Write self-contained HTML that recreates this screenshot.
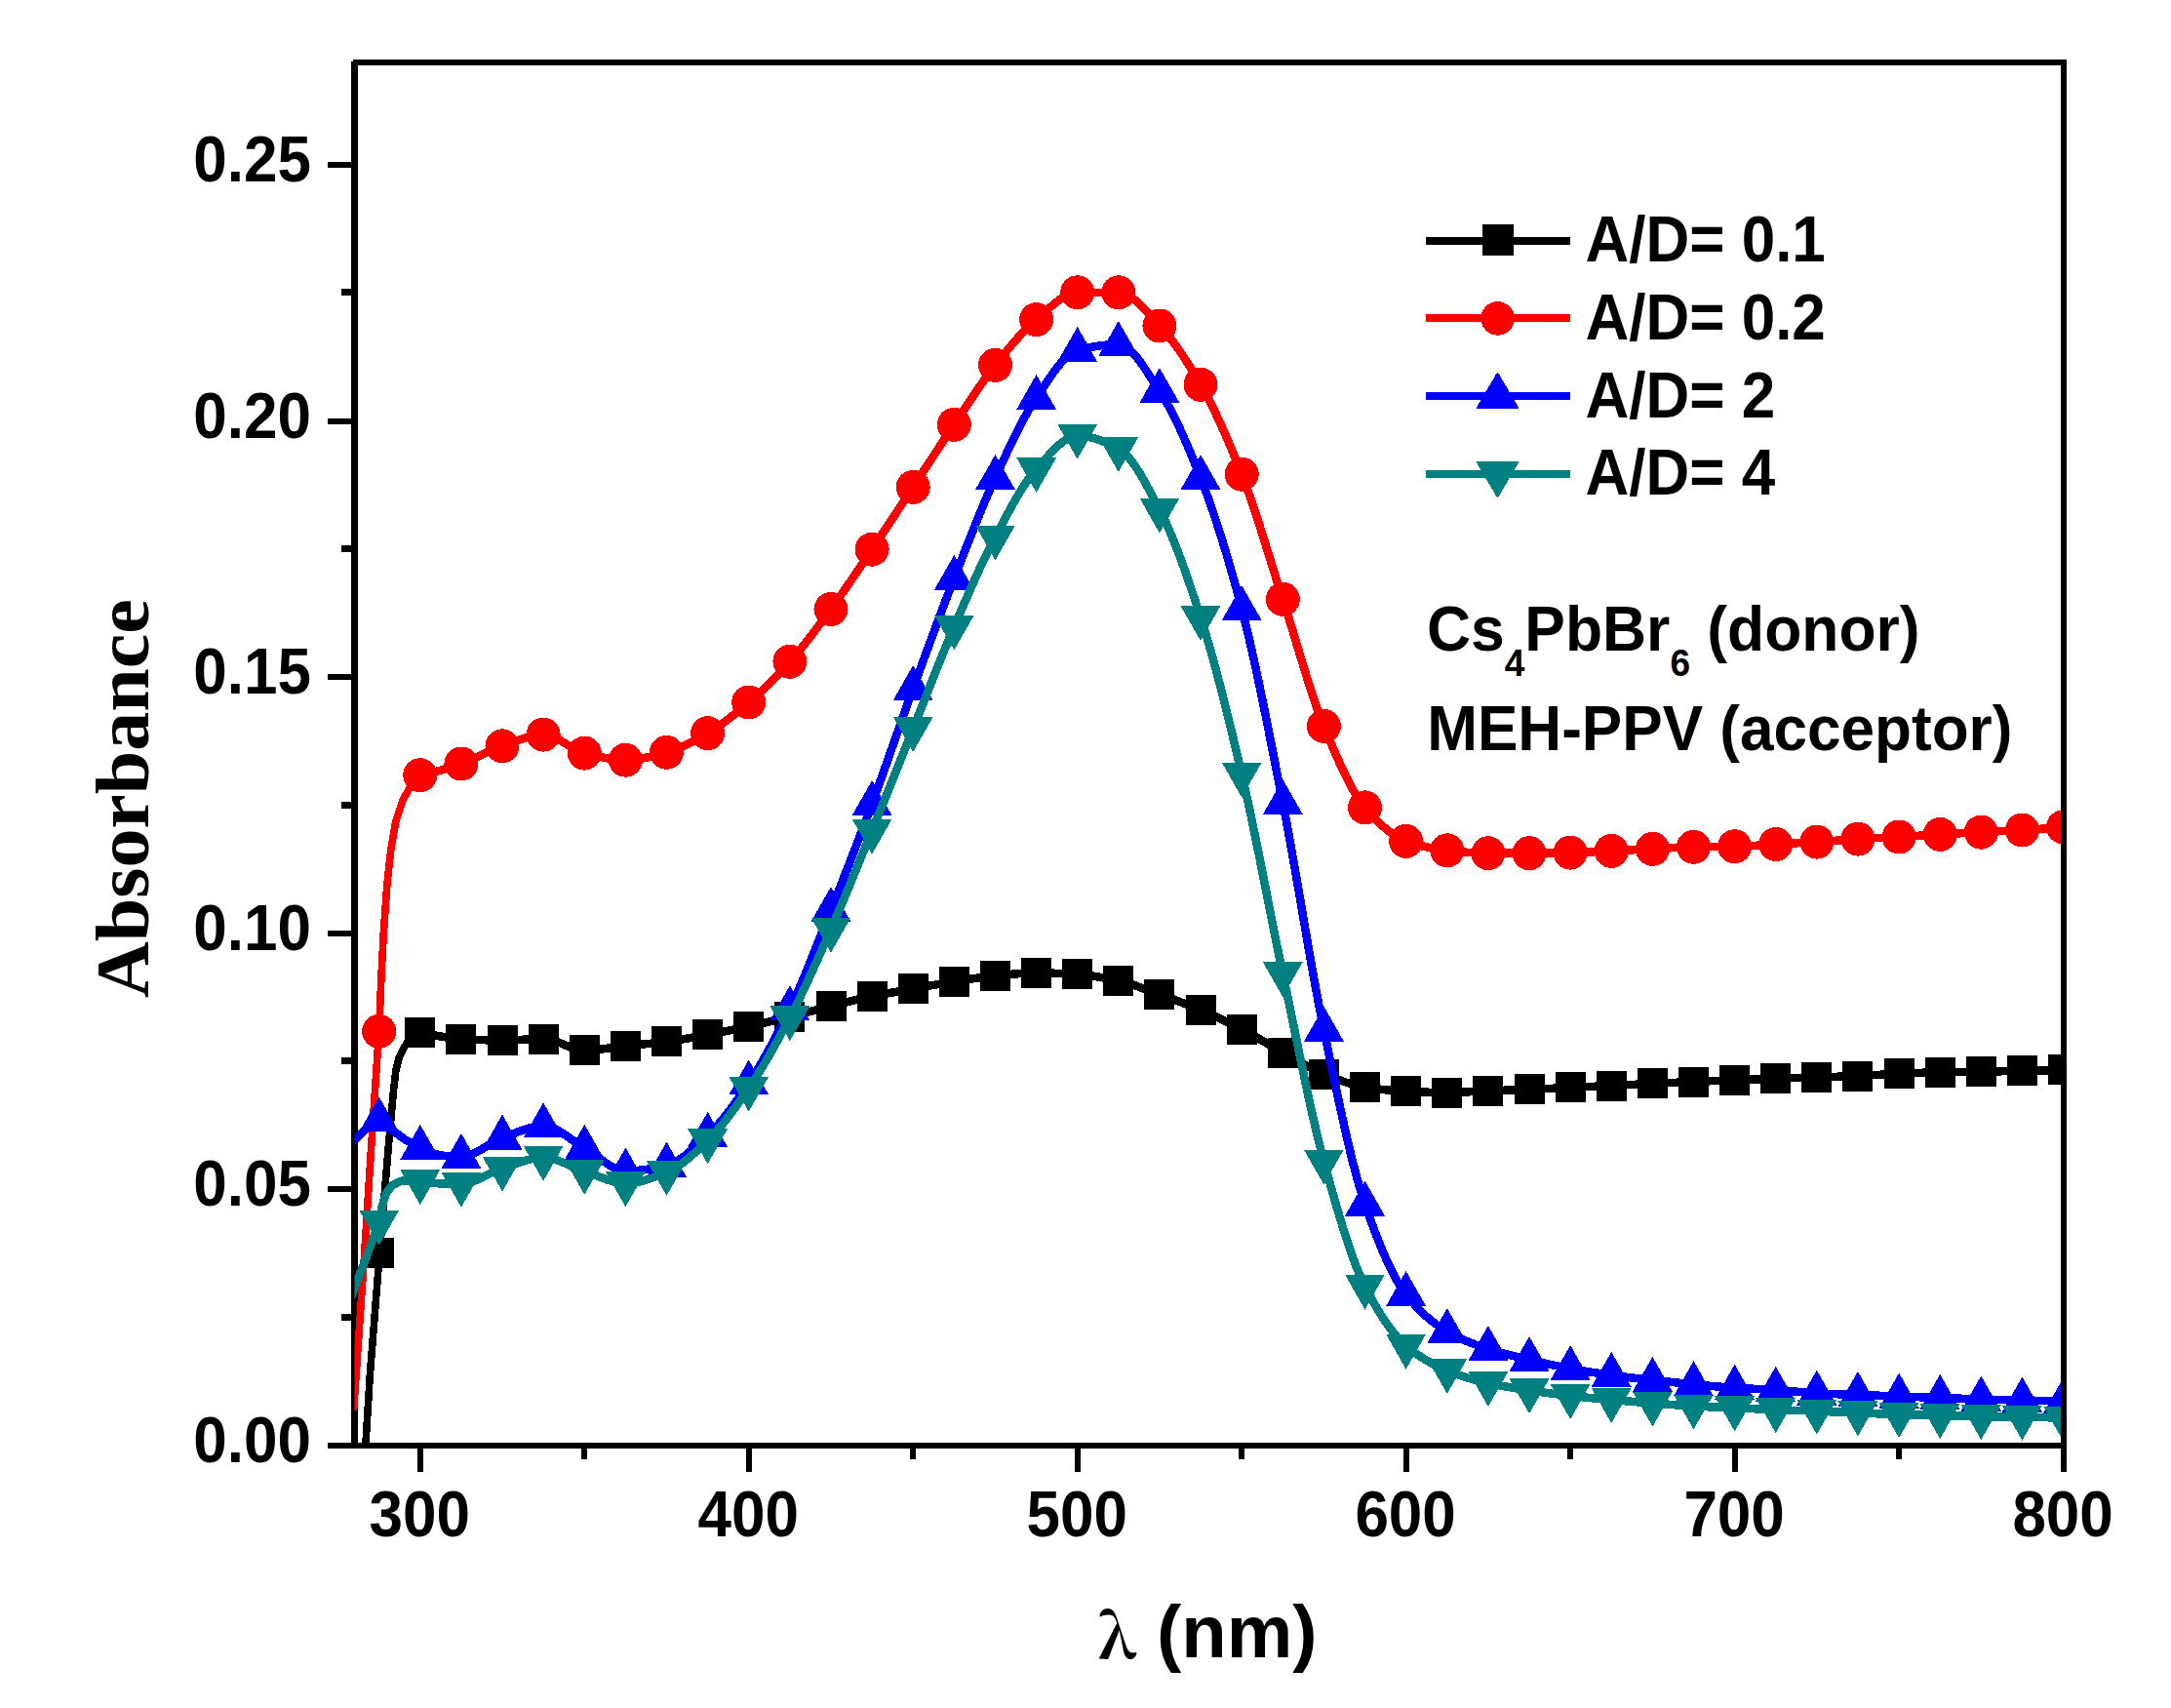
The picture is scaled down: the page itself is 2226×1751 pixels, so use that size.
<!DOCTYPE html>
<html lang="en">
<head>
<meta charset="utf-8">
<title>Absorbance spectra</title>
<style>html,body{margin:0;padding:0;background:#fff;}svg{display:block;}</style>
</head>
<body>
<svg width="2226" height="1751" viewBox="0 0 2226 1751">
<rect width="2226" height="1751" fill="#ffffff"/>
<defs><clipPath id="pc"><rect x="363.4" y="67" width="1749.6" height="1412.0"/></clipPath></defs>
<g fill="#000000" shape-rendering="crispEdges">
<rect x="360" y="63" width="7" height="1422"/>
<rect x="362" y="61" width="1757" height="6"/>
<rect x="2113" y="61" width="6" height="1448"/>
<rect x="336" y="1479" width="1783" height="6"/>
<rect x="336" y="1216.4" width="25" height="6"/>
<rect x="336" y="953.8" width="25" height="6"/>
<rect x="336" y="691.2" width="25" height="6"/>
<rect x="336" y="428.6" width="25" height="6"/>
<rect x="336" y="166.0" width="25" height="6"/>
<rect x="350" y="1346.7" width="11" height="7"/>
<rect x="350" y="1084.1" width="11" height="7"/>
<rect x="350" y="821.5" width="11" height="7"/>
<rect x="350" y="558.9" width="11" height="7"/>
<rect x="350" y="296.3" width="11" height="7"/>
<rect x="427.8" y="1484" width="6" height="25"/>
<rect x="764.8" y="1484" width="6" height="25"/>
<rect x="1101.7" y="1484" width="6" height="25"/>
<rect x="1438.6" y="1484" width="6" height="25"/>
<rect x="1775.6" y="1484" width="6" height="25"/>
<rect x="596.3" y="1484" width="6" height="12"/>
<rect x="933.2" y="1484" width="6" height="12"/>
<rect x="1270.2" y="1484" width="6" height="12"/>
<rect x="1607.1" y="1484" width="6" height="12"/>
<rect x="1944.1" y="1484" width="6" height="12"/>
</g>
<g clip-path="url(#pc)" shape-rendering="crispEdges">
<polyline points="374.6,1486.0 379.3,1409.8 384.0,1351.3 388.8,1290.0 393.5,1233.0 398.3,1175.6 403.6,1117.0 405.8,1098.0 409.5,1083.0 417.3,1068.8 423.5,1061.5 430.8,1058.3" fill="none" stroke="#000000" stroke-width="7.6" stroke-linejoin="round"/>
<polyline points="430.8,1058.3 433.8,1059.0 436.8,1059.6 439.8,1060.2 442.8,1060.8 445.8,1061.4 448.8,1062.0 451.8,1062.5 454.8,1063.0 457.8,1063.4 460.8,1063.8 463.8,1064.2 466.8,1064.5 469.8,1064.8 472.8,1065.0 475.8,1065.2 478.8,1065.3 481.8,1065.5 484.8,1065.6 487.8,1065.8 490.8,1065.9 493.8,1066.0 496.8,1066.2 499.8,1066.3 502.8,1066.3 505.8,1066.4 508.8,1066.5 511.8,1066.5 514.8,1066.5 517.8,1066.5 520.8,1066.4 523.8,1066.3 526.8,1066.2 529.8,1066.1 532.8,1065.9 535.8,1065.8 538.8,1065.6 541.8,1065.5 544.8,1065.3 547.8,1065.2 550.8,1065.1 553.8,1065.0 556.8,1065.0 559.8,1065.1 562.8,1065.6 565.8,1066.3 568.8,1067.2 571.8,1068.3 574.8,1069.4 577.8,1070.7 580.8,1071.9 583.8,1073.1 586.8,1074.2 589.8,1075.2 592.8,1076.0 595.8,1076.5 598.8,1076.7 601.8,1076.7 604.8,1076.6 607.8,1076.4 610.8,1076.1 613.8,1075.8 616.8,1075.5 619.8,1075.1 622.8,1074.7 625.8,1074.3 628.8,1073.9 631.8,1073.5 634.8,1073.1 637.8,1072.7 640.8,1072.4 643.8,1072.1 646.8,1071.8 649.8,1071.5 652.8,1071.2 655.8,1070.9 658.8,1070.6 661.8,1070.3 664.8,1070.0 667.8,1069.7 670.8,1069.4 673.8,1069.1 676.8,1068.7 679.8,1068.4 682.8,1068.0 685.8,1067.6 688.8,1067.2 691.8,1066.7 694.8,1066.2 697.8,1065.8 700.8,1065.2 703.8,1064.7 706.8,1064.2 709.8,1063.6 712.8,1063.1 715.8,1062.5 718.8,1062.0 721.8,1061.4 724.8,1060.9 727.8,1060.3 730.8,1059.7 733.8,1059.2 736.8,1058.6 739.8,1058.0 742.8,1057.4 745.8,1056.8 748.8,1056.2 751.8,1055.6 754.8,1055.0 757.8,1054.4 760.8,1053.8 763.8,1053.1 766.8,1052.5 769.8,1051.9 772.8,1051.2 775.8,1050.5 778.8,1049.8 781.8,1049.2 784.8,1048.5 787.8,1047.8 790.8,1047.0 793.8,1046.3 796.8,1045.6 799.8,1044.9 802.8,1044.1 805.8,1043.4 808.8,1042.7 811.8,1041.9 814.8,1041.2 817.8,1040.4 820.8,1039.6 823.8,1038.8 826.8,1038.0 829.8,1037.2 832.8,1036.4 835.8,1035.6 838.8,1034.8 841.8,1034.0 844.8,1033.2 847.8,1032.5 850.8,1031.7 853.8,1030.9 856.8,1030.2 859.8,1029.4 862.8,1028.7 865.8,1028.0 868.8,1027.2 871.8,1026.5 874.8,1025.7 877.8,1025.0 880.8,1024.3 883.8,1023.6 886.8,1023.0 889.8,1022.3 892.8,1021.7 895.8,1021.1 898.8,1020.5 901.8,1019.9 904.8,1019.3 907.8,1018.8 910.8,1018.2 913.8,1017.7 916.8,1017.2 919.8,1016.7 922.8,1016.2 925.8,1015.6 928.8,1015.1 931.8,1014.6 934.8,1014.1 937.8,1013.5 940.8,1013.0 943.8,1012.4 946.8,1011.8 949.8,1011.3 952.8,1010.7 955.8,1010.1 958.8,1009.6 961.8,1009.0 964.8,1008.5 967.8,1008.0 970.8,1007.4 973.8,1006.9 976.8,1006.4 979.8,1006.0 982.8,1005.5 985.8,1005.0 988.8,1004.6 991.8,1004.1 994.8,1003.6 997.8,1003.2 1000.8,1002.8 1003.8,1002.4 1006.8,1002.0 1009.8,1001.6 1012.8,1001.2 1015.8,1000.9 1018.8,1000.6 1021.8,1000.3 1024.8,1000.0 1027.8,999.7 1030.8,999.4 1033.8,999.1 1036.8,998.8 1039.8,998.6 1042.8,998.3 1045.8,998.1 1048.8,997.9 1051.8,997.7 1054.8,997.6 1057.8,997.5 1060.8,997.4 1063.8,997.4 1066.8,997.4 1069.8,997.5 1072.8,997.5 1075.8,997.6 1078.8,997.7 1081.8,997.8 1084.8,997.9 1087.8,998.0 1090.8,998.2 1093.8,998.3 1096.8,998.5 1099.8,998.6 1102.8,998.8 1105.8,999.0 1108.8,999.2 1111.8,999.5 1114.8,999.8 1117.8,1000.2 1120.8,1000.6 1123.8,1001.1 1126.8,1001.6 1129.8,1002.1 1132.8,1002.7 1135.8,1003.3 1138.8,1003.9 1141.8,1004.5 1144.8,1005.2 1147.8,1005.8 1150.8,1006.5 1153.8,1007.3 1156.8,1008.2 1159.8,1009.1 1162.8,1010.0 1165.8,1011.1 1168.8,1012.1 1171.8,1013.2 1174.8,1014.3 1177.8,1015.4 1180.8,1016.5 1183.8,1017.6 1186.8,1018.6 1189.8,1019.7 1192.8,1020.8 1195.8,1021.8 1198.8,1022.9 1201.8,1024.0 1204.8,1025.1 1207.8,1026.3 1210.8,1027.4 1213.8,1028.6 1216.8,1029.7 1219.8,1030.9 1222.8,1032.1 1225.8,1033.3 1228.8,1034.6 1231.8,1035.8 1234.8,1037.1 1237.8,1038.4 1240.8,1039.7 1243.8,1041.0 1246.8,1042.3 1249.8,1043.7 1252.8,1045.1 1255.8,1046.5 1258.8,1047.9 1261.8,1049.3 1264.8,1050.8 1267.8,1052.3 1270.8,1053.8 1273.8,1055.3 1276.8,1056.9 1279.8,1058.5 1282.8,1060.2 1285.8,1061.9 1288.8,1063.6 1291.8,1065.4 1294.8,1067.2 1297.8,1068.9 1300.8,1070.7 1303.8,1072.5 1306.8,1074.2 1309.8,1075.9 1312.8,1077.6 1315.8,1079.3 1318.8,1080.9 1321.8,1082.6 1324.8,1084.3 1327.8,1086.0 1330.8,1087.7 1333.8,1089.4 1336.8,1091.0 1339.8,1092.6 1342.8,1094.2 1345.8,1095.7 1348.8,1097.2 1351.8,1098.6 1354.8,1099.9 1357.8,1101.2 1360.8,1102.3 1363.8,1103.5 1366.8,1104.7 1369.8,1105.9 1372.8,1107.0 1375.8,1108.1 1378.8,1109.1 1381.8,1110.1 1384.8,1111.1 1387.8,1111.9 1390.8,1112.7 1393.8,1113.4 1396.8,1114.0 1399.8,1114.5 1402.8,1115.0 1405.8,1115.4 1408.8,1115.9 1411.8,1116.3 1414.8,1116.6 1417.8,1117.0 1420.8,1117.3 1423.8,1117.6 1426.8,1117.9 1429.8,1118.2 1432.8,1118.4 1435.8,1118.6 1438.8,1118.8 1441.8,1118.9 1444.8,1119.0 1447.8,1119.2 1450.8,1119.3 1453.8,1119.4 1456.8,1119.5 1459.8,1119.6 1462.8,1119.7 1465.8,1119.8 1468.8,1119.8 1471.8,1119.9 1474.8,1119.9 1477.8,1120.0 1480.8,1120.0 1483.8,1120.0 1486.8,1120.0 1489.8,1119.9 1492.8,1119.9 1495.8,1119.8 1498.8,1119.6 1501.8,1119.5 1504.8,1119.4 1507.8,1119.2 1510.8,1119.0 1513.8,1118.9 1516.8,1118.7 1519.8,1118.6 1522.8,1118.4 1525.8,1118.3 1528.8,1118.2 1531.8,1118.1 1534.8,1118.0 1537.8,1117.9 1540.8,1117.8 1543.8,1117.7 1546.8,1117.6 1549.8,1117.5 1552.8,1117.4 1555.8,1117.3 1558.8,1117.1 1561.8,1117.0 1564.8,1116.9 1567.8,1116.8 1570.8,1116.7 1573.8,1116.6 1576.8,1116.4 1579.8,1116.3 1582.8,1116.2 1585.8,1116.0 1588.8,1115.9 1591.8,1115.8 1594.8,1115.6 1597.8,1115.5 1600.8,1115.3 1603.8,1115.2 1606.8,1115.1 1609.8,1114.9 1612.8,1114.8 1615.8,1114.6 1618.8,1114.5 1621.8,1114.4 1624.8,1114.2 1627.8,1114.1 1630.8,1114.0 1633.8,1113.8 1636.8,1113.7 1639.8,1113.6 1642.8,1113.4 1645.8,1113.3 1648.8,1113.2 1651.8,1113.0 1654.8,1112.9 1657.8,1112.7 1660.8,1112.6 1663.8,1112.4 1666.8,1112.3 1669.8,1112.1 1672.8,1112.0 1675.8,1111.8 1678.8,1111.7 1681.8,1111.5 1684.8,1111.4 1687.8,1111.2 1690.8,1111.1 1693.8,1110.9 1696.8,1110.8 1699.8,1110.6 1702.8,1110.5 1705.8,1110.4 1708.8,1110.2 1711.8,1110.1 1714.8,1110.0 1717.8,1109.8 1720.8,1109.7 1723.8,1109.6 1726.8,1109.4 1729.8,1109.3 1732.8,1109.2 1735.8,1109.0 1738.8,1108.9 1741.8,1108.8 1744.8,1108.6 1747.8,1108.5 1750.8,1108.4 1753.8,1108.2 1756.8,1108.1 1759.8,1108.0 1762.8,1107.8 1765.8,1107.7 1768.8,1107.6 1771.8,1107.5 1774.8,1107.3 1777.8,1107.2 1780.8,1107.1 1783.8,1107.0 1786.8,1106.9 1789.8,1106.8 1792.8,1106.7 1795.8,1106.6 1798.8,1106.5 1801.8,1106.4 1804.8,1106.3 1807.8,1106.2 1810.8,1106.1 1813.8,1106.0 1816.8,1105.9 1819.8,1105.8 1822.8,1105.7 1825.8,1105.6 1828.8,1105.5 1831.8,1105.4 1834.8,1105.3 1837.8,1105.2 1840.8,1105.1 1843.8,1105.0 1846.8,1104.9 1849.8,1104.8 1852.8,1104.7 1855.8,1104.6 1858.8,1104.5 1861.8,1104.4 1864.8,1104.3 1867.8,1104.2 1870.8,1104.1 1873.8,1104.1 1876.8,1104.0 1879.8,1103.9 1882.8,1103.8 1885.8,1103.7 1888.8,1103.6 1891.8,1103.5 1894.8,1103.4 1897.8,1103.3 1900.8,1103.2 1903.8,1103.0 1906.8,1102.9 1909.8,1102.8 1912.8,1102.6 1915.8,1102.5 1918.8,1102.3 1921.8,1102.2 1924.8,1102.0 1927.8,1101.8 1930.8,1101.6 1933.8,1101.5 1936.8,1101.3 1939.8,1101.2 1942.8,1101.0 1945.8,1100.9 1948.8,1100.7 1951.8,1100.6 1954.8,1100.5 1957.8,1100.3 1960.8,1100.2 1963.8,1100.0 1966.8,1099.9 1969.8,1099.8 1972.8,1099.7 1975.8,1099.6 1978.8,1099.5 1981.8,1099.4 1984.8,1099.3 1987.8,1099.2 1990.8,1099.2 1993.8,1099.1 1996.8,1099.1 1999.8,1099.0 2002.8,1099.0 2005.8,1099.0 2008.8,1098.9 2011.8,1098.9 2014.8,1098.9 2017.8,1098.9 2020.8,1098.8 2023.8,1098.8 2026.8,1098.8 2029.8,1098.7 2032.8,1098.7 2035.8,1098.6 2038.8,1098.6 2041.8,1098.5 2044.8,1098.4 2047.8,1098.4 2050.8,1098.3 2053.8,1098.2 2056.8,1098.2 2059.8,1098.1 2062.8,1098.0 2065.8,1098.0 2068.8,1097.9 2071.8,1097.8 2074.8,1097.8 2077.8,1097.7 2080.8,1097.6 2083.8,1097.6 2086.8,1097.5 2089.8,1097.5 2092.8,1097.4 2095.8,1097.3 2098.8,1097.3 2101.8,1097.2 2104.8,1097.1 2107.8,1097.1 2110.8,1097.0 2113.8,1096.9 2116.8,1096.9 2119.8,1096.8 2122.8,1096.7 2125.8,1096.7" fill="none" stroke="#000000" stroke-width="8.5" stroke-linejoin="round"/>
<g fill="#000000"><rect x="373.2" y="1269.3" width="31.0" height="31.0"/>
<rect x="415.3" y="1042.8" width="31.0" height="31.0"/>
<rect x="457.4" y="1049.5" width="31.0" height="31.0"/>
<rect x="499.5" y="1051.0" width="31.0" height="31.0"/>
<rect x="541.6" y="1049.5" width="31.0" height="31.0"/>
<rect x="583.8" y="1061.2" width="31.0" height="31.0"/>
<rect x="625.9" y="1056.8" width="31.0" height="31.0"/>
<rect x="668.0" y="1052.4" width="31.0" height="31.0"/>
<rect x="710.1" y="1045.2" width="31.0" height="31.0"/>
<rect x="752.2" y="1036.8" width="31.0" height="31.0"/>
<rect x="794.4" y="1026.9" width="31.0" height="31.0"/>
<rect x="836.5" y="1015.9" width="31.0" height="31.0"/>
<rect x="878.6" y="1005.9" width="31.0" height="31.0"/>
<rect x="920.7" y="998.3" width="31.0" height="31.0"/>
<rect x="962.8" y="990.7" width="31.0" height="31.0"/>
<rect x="1005.0" y="984.9" width="31.0" height="31.0"/>
<rect x="1047.1" y="981.9" width="31.0" height="31.0"/>
<rect x="1089.2" y="983.4" width="31.0" height="31.0"/>
<rect x="1131.3" y="990.1" width="31.0" height="31.0"/>
<rect x="1173.4" y="1003.9" width="31.0" height="31.0"/>
<rect x="1215.5" y="1020.0" width="31.0" height="31.0"/>
<rect x="1257.7" y="1039.5" width="31.0" height="31.0"/>
<rect x="1299.8" y="1063.5" width="31.0" height="31.0"/>
<rect x="1341.9" y="1085.5" width="31.0" height="31.0"/>
<rect x="1384.0" y="1099.0" width="31.0" height="31.0"/>
<rect x="1426.1" y="1103.4" width="31.0" height="31.0"/>
<rect x="1468.3" y="1104.5" width="31.0" height="31.0"/>
<rect x="1510.4" y="1102.8" width="31.0" height="31.0"/>
<rect x="1552.5" y="1101.3" width="31.0" height="31.0"/>
<rect x="1594.6" y="1099.4" width="31.0" height="31.0"/>
<rect x="1636.7" y="1097.5" width="31.0" height="31.0"/>
<rect x="1678.9" y="1095.4" width="31.0" height="31.0"/>
<rect x="1721.0" y="1093.5" width="31.0" height="31.0"/>
<rect x="1763.1" y="1091.7" width="31.0" height="31.0"/>
<rect x="1805.2" y="1090.3" width="31.0" height="31.0"/>
<rect x="1847.3" y="1088.9" width="31.0" height="31.0"/>
<rect x="1889.4" y="1087.5" width="31.0" height="31.0"/>
<rect x="1931.6" y="1085.3" width="31.0" height="31.0"/>
<rect x="1973.7" y="1083.7" width="31.0" height="31.0"/>
<rect x="2015.8" y="1083.2" width="31.0" height="31.0"/>
<rect x="2057.9" y="1082.3" width="31.0" height="31.0"/>
<rect x="2100.0" y="1081.4" width="31.0" height="31.0"/></g>
<polyline points="362.6,1446.0 369.2,1350.0 373.4,1290.0 380.7,1175.0 388.6,1057.3 391.0,1000.0 393.4,955.0 396.8,907.4 400.8,871.0 405.6,843.0 412.9,820.5 421.7,804.9 430.8,794.7" fill="none" stroke="#ff0000" stroke-width="7.6" stroke-linejoin="round"/>
<polyline points="430.8,794.7 433.8,794.1 436.8,793.4 439.8,792.7 442.8,792.0 445.8,791.2 448.8,790.4 451.8,789.6 454.8,788.7 457.8,787.8 460.8,786.9 463.8,786.0 466.8,785.0 469.8,784.0 472.8,783.0 475.8,782.0 478.8,780.8 481.8,779.5 484.8,778.2 487.8,776.8 490.8,775.4 493.8,774.0 496.8,772.6 499.8,771.1 502.8,769.7 505.8,768.4 508.8,767.1 511.8,766.0 514.8,764.9 517.8,763.8 520.8,762.8 523.8,761.6 526.8,760.5 529.8,759.4 532.8,758.3 535.8,757.3 538.8,756.3 541.8,755.4 544.8,754.7 547.8,754.0 550.8,753.5 553.8,753.2 556.8,753.1 559.8,753.3 562.8,753.9 565.8,754.8 568.8,756.1 571.8,757.6 574.8,759.3 577.8,761.1 580.8,762.9 583.8,764.8 586.8,766.6 589.8,768.3 592.8,769.8 595.8,771.0 598.8,772.0 601.8,772.7 604.8,773.5 607.8,774.2 610.8,774.9 613.8,775.6 616.8,776.2 619.8,776.8 622.8,777.4 625.8,777.9 628.8,778.3 631.8,778.7 634.8,778.9 637.8,779.1 640.8,779.2 643.8,779.2 646.8,779.0 649.8,778.7 652.8,778.4 655.8,777.9 658.8,777.4 661.8,776.8 664.8,776.1 667.8,775.4 670.8,774.7 673.8,773.9 676.8,773.1 679.8,772.3 682.8,771.5 685.8,770.7 688.8,769.7 691.8,768.6 694.8,767.5 697.8,766.2 700.8,764.9 703.8,763.5 706.8,762.0 709.8,760.4 712.8,758.8 715.8,757.2 718.8,755.5 721.8,753.8 724.8,752.1 727.8,750.3 730.8,748.5 733.8,746.5 736.8,744.5 739.8,742.4 742.8,740.2 745.8,737.9 748.8,735.6 751.8,733.3 754.8,730.8 757.8,728.4 760.8,725.9 763.8,723.4 766.8,720.8 769.8,718.2 772.8,715.6 775.8,712.9 778.8,710.1 781.8,707.3 784.8,704.5 787.8,701.5 790.8,698.5 793.8,695.5 796.8,692.4 799.8,689.2 802.8,686.0 805.8,682.8 808.8,679.5 811.8,676.1 814.8,672.7 817.8,669.1 820.8,665.5 823.8,661.8 826.8,658.0 829.8,654.1 832.8,650.3 835.8,646.3 838.8,642.3 841.8,638.3 844.8,634.3 847.8,630.2 850.8,626.1 853.8,622.0 856.8,617.9 859.8,613.7 862.8,609.4 865.8,605.1 868.8,600.7 871.8,596.3 874.8,591.9 877.8,587.5 880.8,583.0 883.8,578.6 886.8,574.1 889.8,569.6 892.8,565.1 895.8,560.7 898.8,556.2 901.8,551.7 904.8,547.2 907.8,542.7 910.8,538.1 913.8,533.6 916.8,529.0 919.8,524.4 922.8,519.8 925.8,515.3 928.8,510.7 931.8,506.1 934.8,501.6 937.8,497.0 940.8,492.4 943.8,487.8 946.8,483.2 949.8,478.6 952.8,474.0 955.8,469.4 958.8,464.8 961.8,460.3 964.8,455.7 967.8,451.1 970.8,446.6 973.8,442.1 976.8,437.6 979.8,433.1 982.8,428.6 985.8,424.1 988.8,419.6 991.8,415.1 994.8,410.5 997.8,406.0 1000.8,401.6 1003.8,397.2 1006.8,392.9 1009.8,388.6 1012.8,384.5 1015.8,380.4 1018.8,376.5 1021.8,372.7 1024.8,369.0 1027.8,365.2 1030.8,361.5 1033.8,357.9 1036.8,354.3 1039.8,350.7 1042.8,347.3 1045.8,343.9 1048.8,340.7 1051.8,337.6 1054.8,334.6 1057.8,331.8 1060.8,329.1 1063.8,326.6 1066.8,324.0 1069.8,321.3 1072.8,318.6 1075.8,316.0 1078.8,313.3 1081.8,310.8 1084.8,308.4 1087.8,306.3 1090.8,304.3 1093.8,302.7 1096.8,301.4 1099.8,300.4 1102.8,299.9 1105.8,299.8 1108.8,299.8 1111.8,299.8 1114.8,299.8 1117.8,299.8 1120.8,299.8 1123.8,299.8 1126.8,299.8 1129.8,299.8 1132.8,299.8 1135.8,299.8 1138.8,299.8 1141.8,299.8 1144.8,299.8 1147.8,299.8 1150.8,300.3 1153.8,301.3 1156.8,302.8 1159.8,304.7 1162.8,306.9 1165.8,309.5 1168.8,312.3 1171.8,315.4 1174.8,318.6 1177.8,321.8 1180.8,325.2 1183.8,328.5 1186.8,331.7 1189.8,334.9 1192.8,338.2 1195.8,341.6 1198.8,345.3 1201.8,349.1 1204.8,353.2 1207.8,357.3 1210.8,361.7 1213.8,366.2 1216.8,370.8 1219.8,375.5 1222.8,380.4 1225.8,385.4 1228.8,390.4 1231.8,395.6 1234.8,401.0 1237.8,406.5 1240.8,412.3 1243.8,418.3 1246.8,424.5 1249.8,430.9 1252.8,437.5 1255.8,444.2 1258.8,451.1 1261.8,458.2 1264.8,465.4 1267.8,472.7 1270.8,480.2 1273.8,487.8 1276.8,495.7 1279.8,504.0 1282.8,512.6 1285.8,521.4 1288.8,530.5 1291.8,539.8 1294.8,549.3 1297.8,558.8 1300.8,568.4 1303.8,578.1 1306.8,587.7 1309.8,597.2 1312.8,606.6 1315.8,615.9 1318.8,625.2 1321.8,634.9 1324.8,644.6 1327.8,654.5 1330.8,664.5 1333.8,674.4 1336.8,684.2 1339.8,693.9 1342.8,703.4 1345.8,712.6 1348.8,721.4 1351.8,729.9 1354.8,737.9 1357.8,745.3 1360.8,752.6 1363.8,759.7 1366.8,766.8 1369.8,773.7 1372.8,780.5 1375.8,787.1 1378.8,793.4 1381.8,799.5 1384.8,805.3 1387.8,810.7 1390.8,815.7 1393.8,820.4 1396.8,824.5 1399.8,828.2 1402.8,831.6 1405.8,835.0 1408.8,838.2 1411.8,841.2 1414.8,844.2 1417.8,847.0 1420.8,849.6 1423.8,852.0 1426.8,854.3 1429.8,856.4 1432.8,858.2 1435.8,859.9 1438.8,861.3 1441.8,862.5 1444.8,863.5 1447.8,864.4 1450.8,865.3 1453.8,866.2 1456.8,867.0 1459.8,867.7 1462.8,868.4 1465.8,869.0 1468.8,869.6 1471.8,870.2 1474.8,870.6 1477.8,871.1 1480.8,871.5 1483.8,871.8 1486.8,872.1 1489.8,872.4 1492.8,872.7 1495.8,873.0 1498.8,873.3 1501.8,873.6 1504.8,873.8 1507.8,874.0 1510.8,874.2 1513.8,874.4 1516.8,874.5 1519.8,874.6 1522.8,874.7 1525.8,874.7 1528.8,874.7 1531.8,874.7 1534.8,874.7 1537.8,874.7 1540.8,874.7 1543.8,874.7 1546.8,874.7 1549.8,874.7 1552.8,874.7 1555.8,874.7 1558.8,874.7 1561.8,874.7 1564.8,874.7 1567.8,874.7 1570.8,874.7 1573.8,874.7 1576.8,874.7 1579.8,874.6 1582.8,874.6 1585.8,874.6 1588.8,874.5 1591.8,874.5 1594.8,874.4 1597.8,874.4 1600.8,874.3 1603.8,874.2 1606.8,874.2 1609.8,874.1 1612.8,874.0 1615.8,874.0 1618.8,873.9 1621.8,873.8 1624.8,873.6 1627.8,873.5 1630.8,873.4 1633.8,873.3 1636.8,873.1 1639.8,873.0 1642.8,872.8 1645.8,872.7 1648.8,872.6 1651.8,872.4 1654.8,872.3 1657.8,872.1 1660.8,872.0 1663.8,871.9 1666.8,871.7 1669.8,871.6 1672.8,871.4 1675.8,871.2 1678.8,871.1 1681.8,870.9 1684.8,870.8 1687.8,870.6 1690.8,870.5 1693.8,870.3 1696.8,870.2 1699.8,870.0 1702.8,869.9 1705.8,869.7 1708.8,869.5 1711.8,869.3 1714.8,869.2 1717.8,869.0 1720.8,868.9 1723.8,868.7 1726.8,868.6 1729.8,868.5 1732.8,868.4 1735.8,868.3 1738.8,868.3 1741.8,868.2 1744.8,868.2 1747.8,868.1 1750.8,868.1 1753.8,868.1 1756.8,868.1 1759.8,868.0 1762.8,868.0 1765.8,868.0 1768.8,867.9 1771.8,867.9 1774.8,867.9 1777.8,867.8 1780.8,867.7 1783.8,867.7 1786.8,867.5 1789.8,867.4 1792.8,867.2 1795.8,867.1 1798.8,866.9 1801.8,866.7 1804.8,866.5 1807.8,866.3 1810.8,866.1 1813.8,865.9 1816.8,865.7 1819.8,865.6 1822.8,865.4 1825.8,865.2 1828.8,865.1 1831.8,864.9 1834.8,864.7 1837.8,864.6 1840.8,864.4 1843.8,864.2 1846.8,864.1 1849.8,863.9 1852.8,863.7 1855.8,863.5 1858.8,863.4 1861.8,863.2 1864.8,863.0 1867.8,862.8 1870.8,862.6 1873.8,862.3 1876.8,862.1 1879.8,861.9 1882.8,861.7 1885.8,861.4 1888.8,861.2 1891.8,861.0 1894.8,860.8 1897.8,860.6 1900.8,860.4 1903.8,860.2 1906.8,860.0 1909.8,859.8 1912.8,859.7 1915.8,859.5 1918.8,859.4 1921.8,859.2 1924.8,859.1 1927.8,858.9 1930.8,858.8 1933.8,858.7 1936.8,858.5 1939.8,858.4 1942.8,858.2 1945.8,858.1 1948.8,857.9 1951.8,857.7 1954.8,857.6 1957.8,857.4 1960.8,857.2 1963.8,857.0 1966.8,856.8 1969.8,856.6 1972.8,856.4 1975.8,856.2 1978.8,856.0 1981.8,855.8 1984.8,855.7 1987.8,855.5 1990.8,855.3 1993.8,855.1 1996.8,855.0 1999.8,854.8 2002.8,854.6 2005.8,854.5 2008.8,854.3 2011.8,854.1 2014.8,854.0 2017.8,853.8 2020.8,853.7 2023.8,853.5 2026.8,853.3 2029.8,853.2 2032.8,853.0 2035.8,852.9 2038.8,852.7 2041.8,852.6 2044.8,852.4 2047.8,852.3 2050.8,852.2 2053.8,852.0 2056.8,851.9 2059.8,851.7 2062.8,851.6 2065.8,851.4 2068.8,851.3 2071.8,851.1 2074.8,850.9 2077.8,850.7 2080.8,850.5 2083.8,850.3 2086.8,850.1 2089.8,849.9 2092.8,849.7 2095.8,849.5 2098.8,849.3 2101.8,849.0 2104.8,848.8 2107.8,848.5 2110.8,848.3 2113.8,848.0 2116.8,847.8 2119.8,847.6 2122.8,847.4 2125.8,847.1" fill="none" stroke="#ff0000" stroke-width="8.5" stroke-linejoin="round"/>
<g fill="#ff0000"><circle cx="388.7" cy="1057.3" r="17.5"/>
<circle cx="430.8" cy="794.7" r="17.5"/>
<circle cx="472.9" cy="783.0" r="17.5"/>
<circle cx="515.0" cy="764.8" r="17.5"/>
<circle cx="557.1" cy="753.1" r="17.5"/>
<circle cx="599.3" cy="772.1" r="17.5"/>
<circle cx="641.4" cy="779.2" r="17.5"/>
<circle cx="683.5" cy="771.3" r="17.5"/>
<circle cx="725.6" cy="751.6" r="17.5"/>
<circle cx="767.7" cy="720.0" r="17.5"/>
<circle cx="809.9" cy="678.3" r="17.5"/>
<circle cx="852.0" cy="624.5" r="17.5"/>
<circle cx="894.1" cy="563.2" r="17.5"/>
<circle cx="936.2" cy="499.4" r="17.5"/>
<circle cx="978.3" cy="435.3" r="17.5"/>
<circle cx="1020.5" cy="374.4" r="17.5"/>
<circle cx="1062.6" cy="327.6" r="17.5"/>
<circle cx="1104.7" cy="299.8" r="17.5"/>
<circle cx="1146.8" cy="299.8" r="17.5"/>
<circle cx="1188.9" cy="334.0" r="17.5"/>
<circle cx="1231.0" cy="394.3" r="17.5"/>
<circle cx="1273.2" cy="486.2" r="17.5"/>
<circle cx="1315.3" cy="614.3" r="17.5"/>
<circle cx="1357.4" cy="744.4" r="17.5"/>
<circle cx="1399.5" cy="827.9" r="17.5"/>
<circle cx="1441.6" cy="862.4" r="17.5"/>
<circle cx="1483.8" cy="871.8" r="17.5"/>
<circle cx="1525.9" cy="874.7" r="17.5"/>
<circle cx="1568.0" cy="874.7" r="17.5"/>
<circle cx="1610.1" cy="874.1" r="17.5"/>
<circle cx="1652.2" cy="872.4" r="17.5"/>
<circle cx="1694.4" cy="870.3" r="17.5"/>
<circle cx="1736.5" cy="868.3" r="17.5"/>
<circle cx="1778.6" cy="867.8" r="17.5"/>
<circle cx="1820.7" cy="865.5" r="17.5"/>
<circle cx="1862.8" cy="863.1" r="17.5"/>
<circle cx="1904.9" cy="860.1" r="17.5"/>
<circle cx="1947.1" cy="858.0" r="17.5"/>
<circle cx="1989.2" cy="855.4" r="17.5"/>
<circle cx="2031.3" cy="853.1" r="17.5"/>
<circle cx="2073.4" cy="851.0" r="17.5"/>
<circle cx="2115.5" cy="847.9" r="17.5"/></g>
<polyline points="356.0,1174.0 364.0,1168.0 376.0,1157.0 388.7,1150.0 400.0,1157.0 415.0,1168.0 430.8,1176.8" fill="none" stroke="#0000ff" stroke-width="8.5" stroke-linejoin="round"/>
<polyline points="430.8,1176.8 433.8,1178.4 436.8,1179.7 439.8,1180.9 442.8,1182.0 445.8,1182.9 448.8,1183.6 451.8,1184.3 454.8,1184.8 457.8,1185.1 460.8,1185.4 463.8,1185.7 466.8,1185.8 469.8,1185.9 472.8,1185.9 475.8,1185.7 478.8,1185.1 481.8,1184.2 484.8,1183.0 487.8,1181.6 490.8,1180.0 493.8,1178.2 496.8,1176.4 499.8,1174.6 502.8,1172.7 505.8,1171.0 508.8,1169.4 511.8,1167.9 514.8,1166.7 517.8,1165.6 520.8,1164.4 523.8,1163.3 526.8,1162.1 529.8,1160.9 532.8,1159.8 535.8,1158.7 538.8,1157.7 541.8,1156.7 544.8,1155.9 547.8,1155.3 550.8,1154.8 553.8,1154.4 556.8,1154.3 559.8,1154.5 562.8,1155.0 565.8,1156.0 568.8,1157.2 571.8,1158.7 574.8,1160.5 577.8,1162.4 580.8,1164.4 583.8,1166.5 586.8,1168.7 589.8,1170.8 592.8,1172.8 595.8,1174.8 598.8,1176.5 601.8,1178.3 604.8,1180.2 607.8,1182.3 610.8,1184.5 613.8,1186.7 616.8,1189.0 619.8,1191.2 622.8,1193.2 625.8,1195.2 628.8,1196.9 631.8,1198.3 634.8,1199.4 637.8,1200.2 640.8,1200.5 643.8,1200.5 646.8,1200.4 649.8,1200.2 652.8,1200.0 655.8,1199.7 658.8,1199.3 661.8,1198.9 664.8,1198.5 667.8,1198.0 670.8,1197.4 673.8,1196.8 676.8,1196.2 679.8,1195.5 682.8,1194.9 685.8,1194.1 688.8,1193.0 691.8,1191.6 694.8,1189.9 697.8,1188.0 700.8,1185.9 703.8,1183.6 706.8,1181.1 709.8,1178.5 712.8,1175.9 715.8,1173.1 718.8,1170.3 721.8,1167.5 724.8,1164.7 727.8,1161.8 730.8,1158.8 733.8,1155.6 736.8,1152.3 739.8,1148.7 742.8,1145.1 745.8,1141.3 748.8,1137.3 751.8,1133.3 754.8,1129.2 757.8,1124.9 760.8,1120.6 763.8,1116.3 766.8,1111.8 769.8,1107.3 772.8,1102.6 775.8,1097.8 778.8,1092.9 781.8,1087.8 784.8,1082.5 787.8,1077.1 790.8,1071.7 793.8,1066.0 796.8,1060.3 799.8,1054.5 802.8,1048.5 805.8,1042.5 808.8,1036.4 811.8,1030.2 814.8,1023.7 817.8,1017.0 820.8,1010.2 823.8,1003.1 826.8,995.9 829.8,988.6 832.8,981.2 835.8,973.7 838.8,966.2 841.8,958.6 844.8,951.1 847.8,943.5 850.8,936.0 853.8,928.5 856.8,921.0 859.8,913.4 862.8,905.8 865.8,898.2 868.8,890.5 871.8,882.8 874.8,875.0 877.8,867.2 880.8,859.4 883.8,851.5 886.8,843.5 889.8,835.5 892.8,827.5 895.8,819.4 898.8,811.2 901.8,802.9 904.8,794.6 907.8,786.1 910.8,777.7 913.8,769.1 916.8,760.6 919.8,752.1 922.8,743.6 925.8,735.1 928.8,726.6 931.8,718.2 934.8,709.9 937.8,701.7 940.8,693.5 943.8,685.2 946.8,677.0 949.8,668.8 952.8,660.7 955.8,652.6 958.8,644.5 961.8,636.4 964.8,628.4 967.8,620.4 970.8,612.5 973.8,604.7 976.8,597.0 979.8,589.3 982.8,581.6 985.8,573.9 988.8,566.2 991.8,558.6 994.8,551.0 997.8,543.4 1000.8,536.0 1003.8,528.6 1006.8,521.3 1009.8,514.2 1012.8,507.2 1015.8,500.3 1018.8,493.6 1021.8,487.1 1024.8,480.6 1027.8,474.1 1030.8,467.6 1033.8,461.2 1036.8,454.9 1039.8,448.7 1042.8,442.7 1045.8,436.8 1048.8,431.1 1051.8,425.6 1054.8,420.4 1057.8,415.4 1060.8,410.7 1063.8,406.2 1066.8,401.7 1069.8,397.2 1072.8,392.7 1075.8,388.2 1078.8,383.8 1081.8,379.6 1084.8,375.7 1087.8,372.0 1090.8,368.6 1093.8,365.6 1096.8,363.1 1099.8,361.1 1102.8,359.6 1105.8,358.7 1108.8,358.0 1111.8,357.3 1114.8,356.6 1117.8,356.0 1120.8,355.5 1123.8,355.0 1126.8,354.5 1129.8,354.1 1132.8,353.8 1135.8,353.5 1138.8,353.3 1141.8,353.1 1144.8,353.0 1147.8,353.0 1150.8,353.7 1153.8,355.1 1156.8,357.1 1159.8,359.8 1162.8,362.9 1165.8,366.5 1168.8,370.5 1171.8,374.7 1174.8,379.2 1177.8,383.8 1180.8,388.5 1183.8,393.2 1186.8,397.8 1189.8,402.3 1192.8,407.0 1195.8,412.1 1198.8,417.4 1201.8,423.1 1204.8,429.0 1207.8,435.2 1210.8,441.7 1213.8,448.3 1216.8,455.2 1219.8,462.2 1222.8,469.5 1225.8,476.8 1228.8,484.3 1231.8,491.9 1234.8,499.7 1237.8,507.8 1240.8,516.2 1243.8,524.9 1246.8,533.8 1249.8,543.1 1252.8,552.5 1255.8,562.3 1258.8,572.3 1261.8,582.6 1264.8,593.2 1267.8,604.0 1270.8,615.0 1273.8,626.4 1276.8,638.2 1279.8,650.6 1282.8,663.6 1285.8,677.0 1288.8,690.8 1291.8,705.0 1294.8,719.5 1297.8,734.2 1300.8,749.2 1303.8,764.4 1306.8,779.6 1309.8,794.9 1312.8,810.3 1315.8,825.6 1318.8,841.3 1321.8,857.6 1324.8,874.3 1327.8,891.3 1330.8,908.6 1333.8,926.0 1336.8,943.5 1339.8,960.9 1342.8,978.1 1345.8,995.0 1348.8,1011.5 1351.8,1027.5 1354.8,1042.9 1357.8,1057.6 1360.8,1072.0 1363.8,1086.5 1366.8,1100.9 1369.8,1115.2 1372.8,1129.3 1375.8,1143.1 1378.8,1156.6 1381.8,1169.7 1384.8,1182.2 1387.8,1194.3 1390.8,1205.6 1393.8,1216.3 1396.8,1226.2 1399.8,1235.3 1402.8,1243.8 1405.8,1252.2 1408.8,1260.3 1411.8,1268.1 1414.8,1275.6 1417.8,1282.8 1420.8,1289.7 1423.8,1296.3 1426.8,1302.5 1429.8,1308.3 1432.8,1313.7 1435.8,1318.6 1438.8,1323.1 1441.8,1327.2 1444.8,1330.9 1447.8,1334.5 1450.8,1337.9 1453.8,1341.1 1456.8,1344.1 1459.8,1347.0 1462.8,1349.8 1465.8,1352.3 1468.8,1354.8 1471.8,1357.1 1474.8,1359.3 1477.8,1361.3 1480.8,1363.2 1483.8,1365.0 1486.8,1366.7 1489.8,1368.3 1492.8,1369.9 1495.8,1371.3 1498.8,1372.7 1501.8,1374.1 1504.8,1375.3 1507.8,1376.6 1510.8,1377.7 1513.8,1378.8 1516.8,1379.9 1519.8,1381.0 1522.8,1382.0 1525.8,1383.0 1528.8,1383.9 1531.8,1384.8 1534.8,1385.7 1537.8,1386.6 1540.8,1387.4 1543.8,1388.2 1546.8,1388.9 1549.8,1389.7 1552.8,1390.4 1555.8,1391.1 1558.8,1391.8 1561.8,1392.5 1564.8,1393.2 1567.8,1394.0 1570.8,1394.7 1573.8,1395.4 1576.8,1396.0 1579.8,1396.7 1582.8,1397.4 1585.8,1398.1 1588.8,1398.7 1591.8,1399.4 1594.8,1400.0 1597.8,1400.6 1600.8,1401.2 1603.8,1401.8 1606.8,1402.4 1609.8,1402.9 1612.8,1403.5 1615.8,1404.0 1618.8,1404.6 1621.8,1405.1 1624.8,1405.6 1627.8,1406.1 1630.8,1406.6 1633.8,1407.1 1636.8,1407.5 1639.8,1408.0 1642.8,1408.5 1645.8,1408.9 1648.8,1409.3 1651.8,1409.7 1654.8,1410.1 1657.8,1410.5 1660.8,1410.9 1663.8,1411.3 1666.8,1411.7 1669.8,1412.0 1672.8,1412.4 1675.8,1412.7 1678.8,1413.1 1681.8,1413.4 1684.8,1413.7 1687.8,1414.1 1690.8,1414.4 1693.8,1414.7 1696.8,1415.1 1699.8,1415.4 1702.8,1415.7 1705.8,1416.1 1708.8,1416.4 1711.8,1416.7 1714.8,1417.0 1717.8,1417.3 1720.8,1417.7 1723.8,1418.0 1726.8,1418.3 1729.8,1418.6 1732.8,1418.8 1735.8,1419.1 1738.8,1419.4 1741.8,1419.7 1744.8,1420.0 1747.8,1420.3 1750.8,1420.6 1753.8,1420.8 1756.8,1421.1 1759.8,1421.4 1762.8,1421.6 1765.8,1421.9 1768.8,1422.1 1771.8,1422.3 1774.8,1422.6 1777.8,1422.8 1780.8,1422.9 1783.8,1423.1 1786.8,1423.2 1789.8,1423.4 1792.8,1423.5 1795.8,1423.6 1798.8,1423.8 1801.8,1423.9 1804.8,1424.0 1807.8,1424.1 1810.8,1424.3 1813.8,1424.4 1816.8,1424.6 1819.8,1424.7 1822.8,1424.9 1825.8,1425.2 1828.8,1425.4 1831.8,1425.7 1834.8,1426.0 1837.8,1426.3 1840.8,1426.6 1843.8,1426.9 1846.8,1427.2 1849.8,1427.5 1852.8,1427.8 1855.8,1428.0 1858.8,1428.3 1861.8,1428.4 1864.8,1428.6 1867.8,1428.7 1870.8,1428.8 1873.8,1428.9 1876.8,1429.1 1879.8,1429.1 1882.8,1429.2 1885.8,1429.3 1888.8,1429.4 1891.8,1429.5 1894.8,1429.6 1897.8,1429.7 1900.8,1429.8 1903.8,1429.9 1906.8,1430.0 1909.8,1430.1 1912.8,1430.2 1915.8,1430.3 1918.8,1430.4 1921.8,1430.5 1924.8,1430.7 1927.8,1430.8 1930.8,1430.9 1933.8,1431.0 1936.8,1431.1 1939.8,1431.2 1942.8,1431.3 1945.8,1431.5 1948.8,1431.6 1951.8,1431.7 1954.8,1431.8 1957.8,1431.9 1960.8,1432.0 1963.8,1432.1 1966.8,1432.2 1969.8,1432.3 1972.8,1432.4 1975.8,1432.4 1978.8,1432.5 1981.8,1432.6 1984.8,1432.7 1987.8,1432.9 1990.8,1433.0 1993.8,1433.1 1996.8,1433.2 1999.8,1433.3 2002.8,1433.4 2005.8,1433.6 2008.8,1433.7 2011.8,1433.8 2014.8,1433.9 2017.8,1434.0 2020.8,1434.1 2023.8,1434.3 2026.8,1434.4 2029.8,1434.5 2032.8,1434.5 2035.8,1434.6 2038.8,1434.7 2041.8,1434.8 2044.8,1434.9 2047.8,1434.9 2050.8,1435.0 2053.8,1435.1 2056.8,1435.1 2059.8,1435.2 2062.8,1435.3 2065.8,1435.3 2068.8,1435.4 2071.8,1435.5 2074.8,1435.5 2077.8,1435.6 2080.8,1435.7 2083.8,1435.7 2086.8,1435.8 2089.8,1435.9 2092.8,1436.0 2095.8,1436.0 2098.8,1436.1 2101.8,1436.2 2104.8,1436.2 2107.8,1436.3 2110.8,1436.4 2113.8,1436.5 2116.8,1436.5 2119.8,1436.6 2122.8,1436.7 2125.8,1436.7" fill="none" stroke="#0000ff" stroke-width="8.5" stroke-linejoin="round"/>
<g fill="#0000ff"><path d="M388.7 1124.4L409.2 1160.4L368.2 1160.4Z"/>
<path d="M430.8 1152.8L451.3 1188.8L410.3 1188.8Z"/>
<path d="M472.9 1161.9L493.4 1197.9L452.4 1197.9Z"/>
<path d="M515.0 1142.6L535.5 1178.6L494.5 1178.6Z"/>
<path d="M557.1 1130.3L577.6 1166.3L536.6 1166.3Z"/>
<path d="M599.3 1152.8L619.8 1188.8L578.8 1188.8Z"/>
<path d="M641.4 1176.5L661.9 1212.5L620.9 1212.5Z"/>
<path d="M683.5 1170.7L704.0 1206.7L663.0 1206.7Z"/>
<path d="M725.6 1139.9L746.1 1175.9L705.1 1175.9Z"/>
<path d="M767.7 1086.4L788.2 1122.4L747.2 1122.4Z"/>
<path d="M809.9 1010.2L830.4 1046.2L789.4 1046.2Z"/>
<path d="M852.0 909.0L872.5 945.0L831.5 945.0Z"/>
<path d="M894.1 800.0L914.6 836.0L873.6 836.0Z"/>
<path d="M936.2 682.0L956.7 718.0L915.7 718.0Z"/>
<path d="M978.3 569.0L998.8 605.0L957.8 605.0Z"/>
<path d="M1020.5 466.0L1041.0 502.0L1000.0 502.0Z"/>
<path d="M1062.6 384.0L1083.1 420.0L1042.1 420.0Z"/>
<path d="M1104.7 335.0L1125.2 371.0L1084.2 371.0Z"/>
<path d="M1146.8 329.0L1167.3 365.0L1126.3 365.0Z"/>
<path d="M1188.9 377.0L1209.4 413.0L1168.4 413.0Z"/>
<path d="M1231.0 466.0L1251.5 502.0L1210.5 502.0Z"/>
<path d="M1273.2 600.0L1293.7 636.0L1252.7 636.0Z"/>
<path d="M1315.3 799.0L1335.8 835.0L1294.8 835.0Z"/>
<path d="M1357.4 1031.7L1377.9 1067.7L1336.9 1067.7Z"/>
<path d="M1399.5 1210.5L1420.0 1246.5L1379.0 1246.5Z"/>
<path d="M1441.6 1303.0L1462.1 1339.0L1421.1 1339.0Z"/>
<path d="M1483.8 1341.0L1504.3 1377.0L1463.3 1377.0Z"/>
<path d="M1525.9 1359.0L1546.4 1395.0L1505.4 1395.0Z"/>
<path d="M1568.0 1370.0L1588.5 1406.0L1547.5 1406.0Z"/>
<path d="M1610.1 1379.0L1630.6 1415.0L1589.6 1415.0Z"/>
<path d="M1652.2 1385.8L1672.7 1421.8L1631.7 1421.8Z"/>
<path d="M1694.4 1390.8L1714.9 1426.8L1673.9 1426.8Z"/>
<path d="M1736.5 1395.2L1757.0 1431.2L1716.0 1431.2Z"/>
<path d="M1778.6 1398.8L1799.1 1434.8L1758.1 1434.8Z"/>
<path d="M1820.7 1400.8L1841.2 1436.8L1800.2 1436.8Z"/>
<path d="M1862.8 1404.5L1883.3 1440.5L1842.3 1440.5Z"/>
<path d="M1904.9 1405.9L1925.4 1441.9L1884.4 1441.9Z"/>
<path d="M1947.1 1407.5L1967.6 1443.5L1926.6 1443.5Z"/>
<path d="M1989.2 1408.9L2009.7 1444.9L1968.7 1444.9Z"/>
<path d="M2031.3 1410.5L2051.8 1446.5L2010.8 1446.5Z"/>
<path d="M2073.4 1411.5L2093.9 1447.5L2052.9 1447.5Z"/>
<path d="M2115.5 1412.5L2136.0 1448.5L2095.0 1448.5Z"/></g>
<polyline points="356.0,1340.0 364.0,1319.0 376.0,1288.0 388.7,1252.6 391.5,1238.0 395.5,1224.0 402.0,1215.0 412.0,1210.5 430.8,1211.1" fill="none" stroke="#008080" stroke-width="8.5" stroke-linejoin="round"/>
<polyline points="430.8,1211.1 433.8,1211.6 436.8,1212.1 439.8,1212.4 442.8,1212.7 445.8,1213.0 448.8,1213.2 451.8,1213.4 454.8,1213.5 457.8,1213.6 460.8,1213.6 463.8,1213.7 466.8,1213.7 469.8,1213.7 472.8,1213.7 475.8,1213.5 478.8,1213.1 481.8,1212.3 484.8,1211.3 487.8,1210.1 490.8,1208.8 493.8,1207.4 496.8,1205.8 499.8,1204.3 502.8,1202.8 505.8,1201.3 508.8,1199.9 511.8,1198.7 514.8,1197.7 517.8,1196.7 520.8,1195.7 523.8,1194.7 526.8,1193.7 529.8,1192.6 532.8,1191.6 535.8,1190.7 538.8,1189.8 541.8,1189.0 544.8,1188.3 547.8,1187.7 550.8,1187.2 553.8,1186.9 556.8,1186.8 559.8,1186.9 562.8,1187.3 565.8,1187.9 568.8,1188.7 571.8,1189.7 574.8,1190.8 577.8,1192.0 580.8,1193.3 583.8,1194.6 586.8,1195.9 589.8,1197.2 592.8,1198.5 595.8,1199.6 598.8,1200.7 601.8,1201.6 604.8,1202.7 607.8,1203.8 610.8,1204.9 613.8,1206.1 616.8,1207.3 619.8,1208.4 622.8,1209.5 625.8,1210.4 628.8,1211.3 631.8,1212.0 634.8,1212.6 637.8,1212.9 640.8,1213.1 643.8,1213.0 646.8,1212.8 649.8,1212.5 652.8,1212.0 655.8,1211.4 658.8,1210.6 661.8,1209.8 664.8,1208.9 667.8,1207.9 670.8,1206.9 673.8,1205.8 676.8,1204.6 679.8,1203.5 682.8,1202.3 685.8,1201.0 688.8,1199.5 691.8,1197.8 694.8,1196.0 697.8,1193.9 700.8,1191.6 703.8,1189.2 706.8,1186.7 709.8,1184.1 712.8,1181.4 715.8,1178.6 718.8,1175.8 721.8,1172.9 724.8,1170.0 727.8,1167.1 730.8,1163.9 733.8,1160.7 736.8,1157.2 739.8,1153.7 742.8,1150.0 745.8,1146.2 748.8,1142.2 751.8,1138.2 754.8,1134.1 757.8,1129.9 760.8,1125.7 763.8,1121.3 766.8,1117.0 769.8,1112.6 772.8,1108.0 775.8,1103.4 778.8,1098.6 781.8,1093.7 784.8,1088.7 787.8,1083.6 790.8,1078.3 793.8,1073.0 796.8,1067.7 799.8,1062.2 802.8,1056.6 805.8,1051.0 808.8,1045.3 811.8,1039.6 814.8,1033.7 817.8,1027.6 820.8,1021.5 823.8,1015.2 826.8,1008.8 829.8,1002.3 832.8,995.7 835.8,989.1 838.8,982.4 841.8,975.7 844.8,968.9 847.8,962.1 850.8,955.3 853.8,948.5 856.8,941.6 859.8,934.6 862.8,927.5 865.8,920.4 868.8,913.2 871.8,906.0 874.8,898.8 877.8,891.5 880.8,884.1 883.8,876.8 886.8,869.5 889.8,862.1 892.8,854.8 895.8,847.5 898.8,840.1 901.8,832.7 904.8,825.3 907.8,817.9 910.8,810.4 913.8,802.9 916.8,795.4 919.8,788.0 922.8,780.5 925.8,773.0 928.8,765.5 931.8,758.0 934.8,750.5 937.8,743.1 940.8,735.6 943.8,728.0 946.8,720.4 949.8,712.8 952.8,705.2 955.8,697.7 958.8,690.1 961.8,682.6 964.8,675.1 967.8,667.7 970.8,660.4 973.8,653.2 976.8,646.1 979.8,639.1 982.8,632.1 985.8,625.2 988.8,618.2 991.8,611.4 994.8,604.5 997.8,597.7 1000.8,591.1 1003.8,584.5 1006.8,578.0 1009.8,571.7 1012.8,565.5 1015.8,559.5 1018.8,553.7 1021.8,548.0 1024.8,542.3 1027.8,536.7 1030.8,531.0 1033.8,525.4 1036.8,520.0 1039.8,514.6 1042.8,509.4 1045.8,504.4 1048.8,499.6 1051.8,495.0 1054.8,490.7 1057.8,486.7 1060.8,483.0 1063.8,479.7 1066.8,476.3 1069.8,472.9 1072.8,469.5 1075.8,466.2 1078.8,463.0 1081.8,459.9 1084.8,457.0 1087.8,454.4 1090.8,452.1 1093.8,450.1 1096.8,448.6 1099.8,447.4 1102.8,446.8 1105.8,446.7 1108.8,446.9 1111.8,447.2 1114.8,447.7 1117.8,448.3 1120.8,449.1 1123.8,450.0 1126.8,451.0 1129.8,452.1 1132.8,453.3 1135.8,454.6 1138.8,456.0 1141.8,457.5 1144.8,459.0 1147.8,460.5 1150.8,462.6 1153.8,465.3 1156.8,468.5 1159.8,472.1 1162.8,476.2 1165.8,480.7 1168.8,485.5 1171.8,490.6 1174.8,495.9 1177.8,501.4 1180.8,507.0 1183.8,512.7 1186.8,518.4 1189.8,524.2 1192.8,530.2 1195.8,536.6 1198.8,543.3 1201.8,550.4 1204.8,557.8 1207.8,565.5 1210.8,573.5 1213.8,581.8 1216.8,590.3 1219.8,598.9 1222.8,607.8 1225.8,616.8 1228.8,626.0 1231.8,635.3 1234.8,644.9 1237.8,654.9 1240.8,665.3 1243.8,676.0 1246.8,687.0 1249.8,698.2 1252.8,709.8 1255.8,721.6 1258.8,733.6 1261.8,745.8 1264.8,758.2 1267.8,770.7 1270.8,783.4 1273.8,796.2 1276.8,809.4 1279.8,823.0 1282.8,837.1 1285.8,851.6 1288.8,866.3 1291.8,881.2 1294.8,896.3 1297.8,911.5 1300.8,926.6 1303.8,941.8 1306.8,956.8 1309.8,971.6 1312.8,986.1 1315.8,1000.4 1318.8,1014.7 1321.8,1029.2 1324.8,1043.8 1327.8,1058.4 1330.8,1073.0 1333.8,1087.6 1336.8,1101.9 1339.8,1116.1 1342.8,1129.9 1345.8,1143.3 1348.8,1156.3 1351.8,1168.8 1354.8,1180.7 1357.8,1191.9 1360.8,1202.8 1363.8,1213.6 1366.8,1224.3 1369.8,1234.7 1372.8,1244.9 1375.8,1254.9 1378.8,1264.5 1381.8,1273.7 1384.8,1282.6 1387.8,1290.9 1390.8,1298.8 1393.8,1306.2 1396.8,1313.0 1399.8,1319.1 1402.8,1324.9 1405.8,1330.5 1408.8,1335.9 1411.8,1341.1 1414.8,1346.1 1417.8,1350.8 1420.8,1355.3 1423.8,1359.6 1426.8,1363.6 1429.8,1367.4 1432.8,1370.9 1435.8,1374.2 1438.8,1377.1 1441.8,1379.8 1444.8,1382.3 1447.8,1384.7 1450.8,1386.9 1453.8,1389.0 1456.8,1391.0 1459.8,1392.9 1462.8,1394.7 1465.8,1396.4 1468.8,1398.1 1471.8,1399.6 1474.8,1401.1 1477.8,1402.4 1480.8,1403.8 1483.8,1405.0 1486.8,1406.2 1489.8,1407.4 1492.8,1408.5 1495.8,1409.5 1498.8,1410.6 1501.8,1411.5 1504.8,1412.5 1507.8,1413.4 1510.8,1414.2 1513.8,1415.0 1516.8,1415.8 1519.8,1416.6 1522.8,1417.3 1525.8,1418.0 1528.8,1418.6 1531.8,1419.3 1534.8,1419.8 1537.8,1420.4 1540.8,1421.0 1543.8,1421.5 1546.8,1422.0 1549.8,1422.5 1552.8,1423.0 1555.8,1423.4 1558.8,1423.9 1561.8,1424.4 1564.8,1424.8 1567.8,1425.3 1570.8,1425.7 1573.8,1426.2 1576.8,1426.6 1579.8,1427.1 1582.8,1427.5 1585.8,1427.9 1588.8,1428.3 1591.8,1428.7 1594.8,1429.1 1597.8,1429.5 1600.8,1429.9 1603.8,1430.3 1606.8,1430.6 1609.8,1431.0 1612.8,1431.3 1615.8,1431.6 1618.8,1431.9 1621.8,1432.2 1624.8,1432.5 1627.8,1432.8 1630.8,1433.1 1633.8,1433.4 1636.8,1433.6 1639.8,1433.9 1642.8,1434.2 1645.8,1434.4 1648.8,1434.7 1651.8,1435.0 1654.8,1435.2 1657.8,1435.5 1660.8,1435.7 1663.8,1436.0 1666.8,1436.3 1669.8,1436.5 1672.8,1436.8 1675.8,1437.0 1678.8,1437.3 1681.8,1437.5 1684.8,1437.8 1687.8,1438.0 1690.8,1438.2 1693.8,1438.5 1696.8,1438.7 1699.8,1438.9 1702.8,1439.2 1705.8,1439.4 1708.8,1439.6 1711.8,1439.8 1714.8,1440.1 1717.8,1440.3 1720.8,1440.5 1723.8,1440.7 1726.8,1440.9 1729.8,1441.1 1732.8,1441.3 1735.8,1441.5 1738.8,1441.6 1741.8,1441.8 1744.8,1441.9 1747.8,1442.1 1750.8,1442.2 1753.8,1442.4 1756.8,1442.5 1759.8,1442.6 1762.8,1442.7 1765.8,1442.9 1768.8,1443.0 1771.8,1443.1 1774.8,1443.2 1777.8,1443.4 1780.8,1443.5 1783.8,1443.6 1786.8,1443.7 1789.8,1443.9 1792.8,1444.0 1795.8,1444.1 1798.8,1444.2 1801.8,1444.4 1804.8,1444.5 1807.8,1444.6 1810.8,1444.7 1813.8,1444.8 1816.8,1444.9 1819.8,1445.1 1822.8,1445.2 1825.8,1445.3 1828.8,1445.4 1831.8,1445.5 1834.8,1445.6 1837.8,1445.8 1840.8,1445.9 1843.8,1446.0 1846.8,1446.1 1849.8,1446.2 1852.8,1446.3 1855.8,1446.4 1858.8,1446.5 1861.8,1446.7 1864.8,1446.8 1867.8,1446.9 1870.8,1447.0 1873.8,1447.1 1876.8,1447.3 1879.8,1447.4 1882.8,1447.5 1885.8,1447.6 1888.8,1447.7 1891.8,1447.9 1894.8,1448.0 1897.8,1448.1 1900.8,1448.2 1903.8,1448.4 1906.8,1448.5 1909.8,1448.6 1912.8,1448.7 1915.8,1448.9 1918.8,1449.0 1921.8,1449.1 1924.8,1449.3 1927.8,1449.4 1930.8,1449.5 1933.8,1449.6 1936.8,1449.7 1939.8,1449.9 1942.8,1450.0 1945.8,1450.1 1948.8,1450.2 1951.8,1450.2 1954.8,1450.3 1957.8,1450.4 1960.8,1450.5 1963.8,1450.5 1966.8,1450.6 1969.8,1450.7 1972.8,1450.7 1975.8,1450.8 1978.8,1450.9 1981.8,1450.9 1984.8,1451.0 1987.8,1451.1 1990.8,1451.1 1993.8,1451.2 1996.8,1451.3 1999.8,1451.4 2002.8,1451.4 2005.8,1451.5 2008.8,1451.6 2011.8,1451.7 2014.8,1451.7 2017.8,1451.8 2020.8,1451.9 2023.8,1451.9 2026.8,1452.0 2029.8,1452.1 2032.8,1452.1 2035.8,1452.2 2038.8,1452.2 2041.8,1452.3 2044.8,1452.3 2047.8,1452.4 2050.8,1452.4 2053.8,1452.5 2056.8,1452.5 2059.8,1452.6 2062.8,1452.6 2065.8,1452.7 2068.8,1452.7 2071.8,1452.8 2074.8,1452.8 2077.8,1452.9 2080.8,1452.9 2083.8,1453.0 2086.8,1453.0 2089.8,1453.1 2092.8,1453.1 2095.8,1453.2 2098.8,1453.2 2101.8,1453.3 2104.8,1453.3 2107.8,1453.4 2110.8,1453.4 2113.8,1453.5 2116.8,1453.5 2119.8,1453.6 2122.8,1453.6 2125.8,1453.7" fill="none" stroke="#008080" stroke-width="8.5" stroke-linejoin="round"/>
<g fill="#008080"><path d="M388.7 1276.6L409.2 1240.6L368.2 1240.6Z"/>
<path d="M430.8 1235.1L451.3 1199.1L410.3 1199.1Z"/>
<path d="M472.9 1237.7L493.4 1201.7L452.4 1201.7Z"/>
<path d="M515.0 1221.6L535.5 1185.6L494.5 1185.6Z"/>
<path d="M557.1 1210.8L577.6 1174.8L536.6 1174.8Z"/>
<path d="M599.3 1224.8L619.8 1188.8L578.8 1188.8Z"/>
<path d="M641.4 1237.1L661.9 1201.1L620.9 1201.1Z"/>
<path d="M683.5 1226.0L704.0 1190.0L663.0 1190.0Z"/>
<path d="M725.6 1193.2L746.1 1157.2L705.1 1157.2Z"/>
<path d="M767.7 1139.6L788.2 1103.6L747.2 1103.6Z"/>
<path d="M809.9 1067.3L830.4 1031.3L789.4 1031.3Z"/>
<path d="M852.0 976.6L872.5 940.6L831.5 940.6Z"/>
<path d="M894.1 875.6L914.6 839.6L873.6 839.6Z"/>
<path d="M936.2 771.0L956.7 735.0L915.7 735.0Z"/>
<path d="M978.3 666.5L998.8 630.5L957.8 630.5Z"/>
<path d="M1020.5 574.5L1041.0 538.5L1000.0 538.5Z"/>
<path d="M1062.6 505.0L1083.1 469.0L1042.1 469.0Z"/>
<path d="M1104.7 470.7L1125.2 434.7L1084.2 434.7Z"/>
<path d="M1146.8 484.0L1167.3 448.0L1126.3 448.0Z"/>
<path d="M1188.9 546.5L1209.4 510.5L1168.4 510.5Z"/>
<path d="M1231.0 657.0L1251.5 621.0L1210.5 621.0Z"/>
<path d="M1273.2 817.5L1293.7 781.5L1252.7 781.5Z"/>
<path d="M1315.3 1022.0L1335.8 986.0L1294.8 986.0Z"/>
<path d="M1357.4 1214.5L1377.9 1178.5L1336.9 1178.5Z"/>
<path d="M1399.5 1342.6L1420.0 1306.6L1379.0 1306.6Z"/>
<path d="M1441.6 1403.7L1462.1 1367.7L1421.1 1367.7Z"/>
<path d="M1483.8 1429.0L1504.3 1393.0L1463.3 1393.0Z"/>
<path d="M1525.9 1442.0L1546.4 1406.0L1505.4 1406.0Z"/>
<path d="M1568.0 1449.3L1588.5 1413.3L1547.5 1413.3Z"/>
<path d="M1610.1 1455.0L1630.6 1419.0L1589.6 1419.0Z"/>
<path d="M1652.2 1459.0L1672.7 1423.0L1631.7 1423.0Z"/>
<path d="M1694.4 1462.5L1714.9 1426.5L1673.9 1426.5Z"/>
<path d="M1736.5 1465.5L1757.0 1429.5L1716.0 1429.5Z"/>
<path d="M1778.6 1467.4L1799.1 1431.4L1758.1 1431.4Z"/>
<path d="M1820.7 1469.1L1841.2 1433.1L1800.2 1433.1Z"/>
<path d="M1862.8 1470.7L1883.3 1434.7L1842.3 1434.7Z"/>
<path d="M1904.9 1472.4L1925.4 1436.4L1884.4 1436.4Z"/>
<path d="M1947.1 1474.1L1967.6 1438.1L1926.6 1438.1Z"/>
<path d="M1989.2 1475.1L2009.7 1439.1L1968.7 1439.1Z"/>
<path d="M2031.3 1476.1L2051.8 1440.1L2010.8 1440.1Z"/>
<path d="M2073.4 1476.8L2093.9 1440.8L2052.9 1440.8Z"/>
<path d="M2115.5 1477.5L2136.0 1441.5L2095.0 1441.5Z"/></g>
</g>
<text transform="translate(430.3 1574.5) scale(1 1.070)" font-family="'Liberation Sans', Arial, sans-serif" font-weight="bold" font-size="62px" text-anchor="middle" fill="#000000">300</text>
<text transform="translate(767.2 1574.5) scale(1 1.070)" font-family="'Liberation Sans', Arial, sans-serif" font-weight="bold" font-size="62px" text-anchor="middle" fill="#000000">400</text>
<text transform="translate(1104.2 1574.5) scale(1 1.070)" font-family="'Liberation Sans', Arial, sans-serif" font-weight="bold" font-size="62px" text-anchor="middle" fill="#000000">500</text>
<text transform="translate(1441.1 1574.5) scale(1 1.070)" font-family="'Liberation Sans', Arial, sans-serif" font-weight="bold" font-size="62px" text-anchor="middle" fill="#000000">600</text>
<text transform="translate(1778.1 1574.5) scale(1 1.070)" font-family="'Liberation Sans', Arial, sans-serif" font-weight="bold" font-size="62px" text-anchor="middle" fill="#000000">700</text>
<text transform="translate(2115.1 1574.5) scale(1 1.070)" font-family="'Liberation Sans', Arial, sans-serif" font-weight="bold" font-size="62px" text-anchor="middle" fill="#000000">800</text>
<text transform="translate(319.0 1499.0) scale(1 1.070)" font-family="'Liberation Sans', Arial, sans-serif" font-weight="bold" font-size="62px" text-anchor="end" fill="#000000">0.00</text>
<text transform="translate(319.0 1236.4) scale(1 1.070)" font-family="'Liberation Sans', Arial, sans-serif" font-weight="bold" font-size="62px" text-anchor="end" fill="#000000">0.05</text>
<text transform="translate(319.0 973.8) scale(1 1.070)" font-family="'Liberation Sans', Arial, sans-serif" font-weight="bold" font-size="62px" text-anchor="end" fill="#000000">0.10</text>
<text transform="translate(319.0 711.2) scale(1 1.070)" font-family="'Liberation Sans', Arial, sans-serif" font-weight="bold" font-size="62px" text-anchor="end" fill="#000000">0.15</text>
<text transform="translate(319.0 448.6) scale(1 1.070)" font-family="'Liberation Sans', Arial, sans-serif" font-weight="bold" font-size="62px" text-anchor="end" fill="#000000">0.20</text>
<text transform="translate(319.0 186.0) scale(1 1.070)" font-family="'Liberation Sans', Arial, sans-serif" font-weight="bold" font-size="62px" text-anchor="end" fill="#000000">0.25</text>
<text transform="translate(1625.5 268.2) scale(1 1.070)" font-family="'Liberation Sans', Arial, sans-serif" font-weight="bold" font-size="62px" text-anchor="start" fill="#000000">A/D= 0.1</text>
<text transform="translate(1625.5 347.9) scale(1 1.070)" font-family="'Liberation Sans', Arial, sans-serif" font-weight="bold" font-size="62px" text-anchor="start" fill="#000000">A/D= 0.2</text>
<text transform="translate(1625.5 427.6) scale(1 1.070)" font-family="'Liberation Sans', Arial, sans-serif" font-weight="bold" font-size="62px" text-anchor="start" fill="#000000">A/D= 2</text>
<text transform="translate(1625.5 507.3) scale(1 1.070)" font-family="'Liberation Sans', Arial, sans-serif" font-weight="bold" font-size="62px" text-anchor="start" fill="#000000">A/D= 4</text>
<text transform="translate(1463.0 667.0) scale(1 1.030)" font-family="'Liberation Sans', Arial, sans-serif" font-weight="bold" font-size="62.4px" text-anchor="start" fill="#000000">Cs<tspan font-size="37px" dy="25">4</tspan><tspan dy="-25">PbBr</tspan><tspan font-size="37px" dy="25">6</tspan><tspan dy="-25"> (donor)</tspan></text>
<text transform="translate(1463.2 768.5) scale(1 1.030)" font-family="'Liberation Sans', Arial, sans-serif" font-weight="bold" font-size="62.1px" text-anchor="start" fill="#000000">MEH-PPV (acceptor)</text>
<g shape-rendering="crispEdges">
<rect x="1462" y="243.0" width="148" height="8" fill="#000000"/>
<rect x="1462" y="322.0" width="148" height="8" fill="#ff0000"/>
<rect x="1462" y="402.0" width="148" height="8" fill="#0000ff"/>
<rect x="1462" y="482.0" width="148" height="8" fill="#008080"/>
<rect x="1520" y="230" width="32" height="32" fill="#000000"/>
<circle cx="1535.7" cy="326.4" r="17.3" fill="#ff0000"/>
<path d="M1535.5 383L1556 418L1515 418Z" fill="#0000ff" stroke="#0000ff" stroke-width="2" stroke-linejoin="round"/>
<path d="M1535.5 509L1556 474L1515 474Z" fill="#008080" stroke="#008080" stroke-width="2" stroke-linejoin="round"/>
</g>
<text x="1125.7" y="1700" font-size="62.5px" font-weight="bold" fill="#000000" font-family="'Noto Serif CJK SC', 'Liberation Serif', serif">λ</text>
<text x="1186" y="1699" font-size="76px" font-weight="bold" fill="#000000" font-family="'Liberation Sans', Arial, sans-serif">(nm)</text>
<text transform="translate(152 1023) rotate(-90) scale(1 0.97)" font-family="'Liberation Serif', 'Times New Roman', serif" font-weight="bold" font-size="80px" fill="#000000">Absorbance</text>
</svg>
</body>
</html>
